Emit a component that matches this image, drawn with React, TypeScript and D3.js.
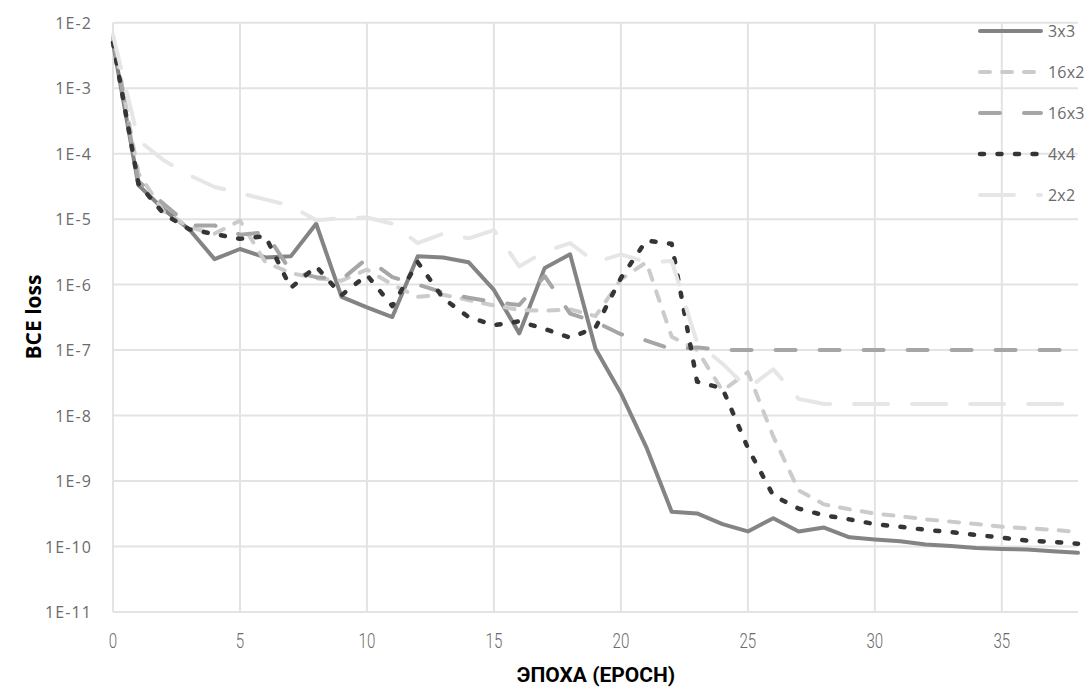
import React from "react";
import * as d3 from "d3";

const epochs = [0,1,2,3,4,5,6,7,8,9,10,11,12,13,14,15,16,17,18,19,20,21,22,23,24,25,26,27,28,29,30,31,32,33,34,35,36,37,38];

const loss3x3 = [4.9e-3, 3.3e-5, 1.4e-5, 7e-6, 2.45e-6, 3.5e-6, 2.6e-6, 2.7e-6, 8.5e-6, 6.5e-7, 4.5e-7, 3.2e-7, 2.7e-6, 2.6e-6, 2.2e-6, 8.3e-7, 1.8e-7, 1.8e-6, 2.9e-6, 1.05e-7, 2.2e-8, 3.3e-9, 3.4e-10, 3.2e-10, 2.2e-10, 1.7e-10, 2.7e-10, 1.7e-10, 1.95e-10, 1.38e-10, 1.28e-10, 1.2e-10, 1.07e-10, 1.02e-10, 9.5e-11, 9.2e-11, 9.0e-11, 8.5e-11, 8.0e-11];

const loss16x2 = [6.3e-3, 5e-5, 1.3e-5, 7.5e-6, 6e-6, 9.5e-6, 2.2e-6, 1.5e-6, 1.25e-6, 1.15e-6, 1.7e-6, 1e-6, 6.5e-7, 7e-7, 5.8e-7, 4.8e-7, 4.1e-7, 4e-7, 4.2e-7, 3.3e-7, 1.2e-6, 2.2e-6, 1.6e-7, 1e-7, 2.4e-8, 4.6e-8, 4.8e-9, 7.2e-10, 4.4e-10, 3.7e-10, 3.2e-10, 2.9e-10, 2.6e-10, 2.4e-10, 2.2e-10, 2.0e-10, 1.9e-10, 1.8e-10, 1.66e-10];

const loss16x3 = [6e-3, 3.8e-5, 1.7e-5, 8e-6, 8e-6, 5.8e-6, 6.3e-6, 1.6e-6, 1.3e-6, 1.2e-6, 2.5e-6, 1.3e-6, 1e-6, 7.6e-7, 6.3e-7, 5.4e-7, 4.9e-7, 1.35e-6, 3.6e-7, 2.7e-7, 1.75e-7, 1.4e-7, 1.03e-7, 1.1e-7, 1e-7, 1e-7, 1e-7, 1e-7, 1e-7, 1e-7, 1e-7, 1e-7, 1e-7, 1e-7, 1e-7, 1e-7, 1e-7, 1e-7, 1e-7];

const loss4x4 = [5e-3, 3.5e-5, 1.2e-5, 7e-6, 5.9e-6, 5e-6, 5.5e-6, 8.9e-7, 1.9e-6, 6.9e-7, 1.4e-6, 4.7e-7, 2.2e-6, 6.2e-7, 3.2e-7, 2.4e-7, 2.75e-7, 2.1e-7, 1.55e-7, 2.2e-7, 1.26e-6, 4.7e-6, 4.2e-6, 3.3e-8, 2.6e-8, 3.2e-9, 6e-10, 3.8e-10, 3e-10, 2.6e-10, 2.2e-10, 2.0e-10, 1.8e-10, 1.66e-10, 1.5e-10, 1.37e-10, 1.23e-10, 1.18e-10, 1.1e-10];

const loss2x2 = [6.5e-3, 1.6e-4, 7.9e-5, 4.7e-5, 3.1e-5, 2.5e-5, 2.0e-5, 1.6e-5, 9.6e-6, 1.03e-5, 1.06e-5, 8.5e-6, 4.3e-6, 6e-6, 5.1e-6, 6.8e-6, 1.9e-6, 3.2e-6, 4.3e-6, 2.2e-6, 2.9e-6, 2.2e-6, 2.3e-6, 1.3e-7, 6.2e-8, 2.6e-8, 5.1e-8, 1.8e-8, 1.5e-8, 1.5e-8, 1.5e-8, 1.5e-8, 1.5e-8, 1.5e-8, 1.5e-8, 1.5e-8, 1.5e-8, 1.5e-8, 1.5e-8];

const xTicks = [0, 5, 10, 15, 20, 25, 30, 35];
const yTicks = [1e-2, 1e-3, 1e-4, 1e-5, 1e-6, 1e-7, 1e-8, 1e-9, 1e-10, 1e-11];
const yTickLabels = ["1E-2", "1E-3", "1E-4", "1E-5", "1E-6", "1E-7", "1E-8", "1E-9", "1E-10", "1E-11"];

const seriesNames = ["3x3", "16x2", "16x3", "4x4", "2x2"];
const seriesValues = [loss3x3, loss16x2, loss16x3, loss4x4, loss2x2];
const seriesStyles = [
  { color: "#848484", width: 4, dash: "none", cap: "round" },
  { color: "#cbcbcb", width: 4, dash: "10,12", cap: "round" },
  { color: "#a6a6a6", width: 4, dash: "20,24", cap: "round" },
  { color: "#353535", width: 4.5, dash: "4,13.5", cap: "round" },
  { color: "#e6e6e6", width: 4, dash: "34,24", cap: "round" },
];

const W = 1091, H = 687;
const plotLeft = 113, plotRight = 1078, plotTop = 22.7, plotBottom = 612;

export default function App() {
  const x = d3.scaleLinear().domain([0, 38]).range([plotLeft, plotRight]);
  const y = d3.scaleLog().domain([1e-11, 1e-2]).range([plotBottom, plotTop]);
  const line = d3
    .line<[number, number]>()
    .x((d) => x(d[0]))
    .y((d) => y(d[1]));

  const gridColor = "#e3e3e3";
  const tickFont = "'Open Sans', sans-serif";

  return (
    <div style={{ position: "fixed", left: 0, top: 0 }}>
      <svg width={W} height={H} style={{ display: "block", background: "#fff" }}>
        {/* grid */}
        {yTicks.map((t, i) => (
          <line key={"gy" + i} x1={plotLeft} x2={plotRight} y1={y(t)} y2={y(t)} stroke={gridColor} strokeWidth={2} />
        ))}
        {xTicks.map((t, i) => (
          <line key={"gx" + i} x1={x(t)} x2={x(t)} y1={plotTop} y2={plotBottom} stroke={gridColor} strokeWidth={2} />
        ))}
        {/* y tick labels */}
        {yTicks.map((t, i) => (
          <text key={"yl" + i} x={92} y={y(t)} textAnchor="end" dominantBaseline="central"
            fontFamily={tickFont} fontSize={16} letterSpacing={1.1} fill="#6b6b6b">
            {yTickLabels[i]}
          </text>
        ))}
        {/* x tick labels */}
        {xTicks.map((t, i) => (
          <text key={"xl" + i} transform={`translate(${x(t)},641) scale(0.72,1)`} textAnchor="middle"
            dominantBaseline="central" fontFamily="'Roboto', sans-serif" fontWeight={300} fontSize={21} fill="#6b6b6b">
            {String(t)}
          </text>
        ))}
        {/* axis titles */}
        <text transform="translate(596,675) scale(1.05,1)" textAnchor="middle" dominantBaseline="central"
          fontFamily="'Roboto', sans-serif" fontWeight="bold" fontSize={20} fill="#000">
          ЭПОХА (EPOCH)
        </text>
        <text transform={`translate(33,317) rotate(-90)`} textAnchor="middle" dominantBaseline="central"
          fontFamily="'Open Sans', sans-serif" fontWeight="bold" fontSize={21} fill="#000">
          BCE loss
        </text>
        {/* series */}
        {seriesValues.map((vals, si) => {
          const st = seriesStyles[si];
          const pts: [number, number][] = epochs.map((e, i) => [e, vals[i]]);
          return (
            <path key={"s" + si} d={line(pts) || ""} fill="none" stroke={st.color} strokeWidth={st.width}
              strokeDasharray={st.dash} strokeLinecap={st.cap as any} strokeLinejoin="round" />
          );
        })}
        {/* legend */}
        {seriesNames.map((name, i) => {
          const st = seriesStyles[i];
          const ly = 31 + i * 41;
          return (
            <g key={"lg" + i}>
              <line x1={980} x2={1041} y1={ly} y2={ly} stroke={st.color} strokeWidth={st.width}
                strokeDasharray={st.dash} strokeLinecap={st.cap as any} />
              <text x={1048} y={ly} dominantBaseline="central" fontFamily={tickFont} fontSize={16}
                letterSpacing={0.2} fill="#6b6b6b">
                {name}
              </text>
            </g>
          );
        })}
      </svg>
    </div>
  );
}
